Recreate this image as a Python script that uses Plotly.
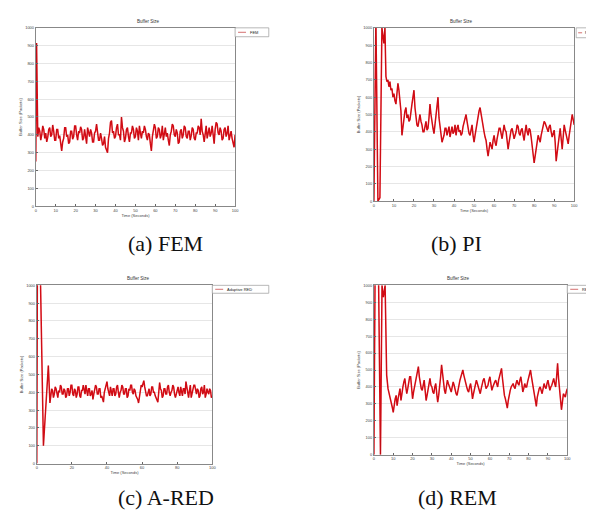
import plotly.graph_objects as go

# ---------------- data ----------------
# FEM: spike at start, then samples every 0.5 s from t = 1 to t = 100
fem_start_time = [0, 0.4]
fem_start_buffer = [250, 915]
fem_buffer = [
    390, 440, 420, 370, 400, 450, 430, 380, 410, 360,
    385, 430, 440, 390, 400, 455, 420, 370, 370, 430,
    430, 380, 395, 340, 310, 360, 380, 440, 440, 390,
    400, 350, 360, 420, 420, 375, 390, 450, 450, 400,
    370, 420, 410, 445, 430, 370, 380, 430, 400, 350,
    440, 400, 390, 430, 410, 360, 360, 410, 420, 460,
    400, 370, 370, 410, 380, 340, 350, 390, 330, 310,
    300, 380, 410, 470, 480, 410, 420, 380, 390, 440,
    460, 400, 400, 370, 500, 440, 420, 360, 380, 430,
    440, 390, 360, 410, 410, 450, 430, 380, 390, 440,
    420, 370, 450, 410, 380, 420, 410, 450, 430, 390,
    370, 410, 400, 350, 310, 390, 420, 460, 440, 380,
    390, 440, 430, 380, 400, 450, 370, 410, 440, 390,
    410, 370, 340, 400, 420, 460, 450, 400, 390, 430,
    410, 350, 360, 420, 430, 380, 400, 450, 440, 390,
    380, 420, 420, 370, 395, 440, 430, 380, 370, 410,
    410, 450, 440, 400, 490, 420, 400, 360, 420, 450,
    380, 420, 440, 390, 410, 450, 390, 350, 430, 470,
    460, 410, 400, 440, 420, 370, 380, 430, 440, 390,
    410, 450, 370, 400, 420, 380, 350, 330, 400]

# PI: start-up oscillation, then samples every 0.5 s from t = 6 to t = 100
pi_start_time = [0, 1, 2, 3, 4, 5, 5.5]
pi_start_buffer = [0, 1050, 0, 20, 1000, 910, 1000]
pi_buffer = [
    720, 690, 700, 660, 690, 640, 650, 600, 620, 580,
    560, 620, 680, 640, 590, 520, 380, 430, 460, 520,
    540, 480, 500, 460, 470, 530, 560, 600, 640, 540,
    480, 440, 430, 480, 500, 460, 440, 400, 400, 430,
    460, 410, 420, 480, 560, 500, 450, 420, 390, 440,
    470, 520, 600, 480, 420, 370, 340, 360, 380, 420,
    420, 380, 400, 430, 370, 410, 430, 390, 400, 440,
    380, 420, 440, 400, 410, 380, 390, 430, 460, 480,
    500, 460, 420, 390, 380, 420, 440, 380, 340, 380,
    420, 450, 480, 520, 540, 500, 470, 430, 400, 370,
    350, 300, 260, 300, 340, 320, 300, 350, 380, 340,
    320, 360, 390, 420, 420, 380, 360, 400, 440, 410,
    400, 350, 300, 340, 380, 410, 420, 390, 360, 380,
    400, 440, 430, 390, 380, 410, 420, 380, 350, 400,
    440, 400, 380, 420, 410, 370, 330, 280, 220, 260,
    310, 350, 380, 360, 340, 380, 410, 440, 460, 450,
    430, 410, 400, 430, 440, 400, 370, 390, 410, 340,
    230, 280, 340, 390, 420, 360, 300, 370, 440, 410,
    380, 350, 330, 380, 420, 460, 500, 470, 440]

# Adaptive RED: start-up transient, then samples every 0.5 s from t = 8 to t = 100
ared_start_time = [0, 0.4, 1.8, 3.8, 6.6, 7.5]
ared_start_buffer = [0, 1200, 1200, 100, 550, 340]
ared_buffer = [
    380, 420, 410, 370, 390, 430, 420, 380, 370, 410,
    400, 440, 430, 390, 390, 420, 410, 370, 380, 420,
    420, 380, 400, 440, 440, 390, 380, 420, 410, 370,
    390, 430, 430, 380, 370, 410, 410, 440, 400, 390,
    440, 400, 380, 420, 420, 380, 390, 410, 360, 390,
    410, 440, 430, 390, 390, 420, 420, 370, 380, 360,
    345, 400, 420, 440, 460, 420, 400, 380, 430, 400,
    380, 420, 420, 380, 390, 430, 440, 400, 370, 400,
    410, 440, 430, 390, 390, 420, 420, 370, 380, 420,
    410, 440, 440, 400, 390, 420, 410, 380, 370, 360,
    340, 380, 410, 440, 430, 450, 465, 430, 400, 380,
    380, 410, 420, 380, 390, 430, 430, 400, 400, 380,
    370, 360, 345, 400, 455, 420, 410, 370, 380, 420,
    420, 390, 390, 430, 440, 400, 380, 400, 410, 440,
    430, 390, 370, 390, 410, 430, 400, 380, 430, 400,
    380, 420, 420, 390, 460, 430, 390, 370, 410, 440,
    370, 400, 420, 440, 440, 400, 390, 420, 410, 370,
    380, 420, 430, 390, 400, 440, 370, 390, 420, 400,
    390, 420, 410, 370, 380]

# REM: start-up oscillation, then samples every 0.5 s from t = 8 to t = 100
rem_start_time = [0, 0.6, 2.4, 3.4, 4.2, 4.9, 5.8, 6.6, 7.3]
rem_start_buffer = [0, 1050, 1050, 0, 1000, 930, 1000, 470, 390]
rem_buffer = [
    360, 330, 310, 280, 250, 300, 330, 350, 290, 330,
    360, 390, 320, 370, 400, 430, 450, 400, 360, 390,
    420, 460, 460, 400, 330, 370, 400, 430, 450, 490,
    520, 460, 410, 390, 380, 420, 440, 380, 320, 350,
    380, 420, 450, 410, 400, 370, 360, 400, 420, 360,
    310, 350, 390, 460, 530, 470, 420, 380, 360, 400,
    440, 420, 400, 380, 370, 400, 430, 410, 380, 360,
    350, 390, 420, 440, 460, 490, 500, 470, 440, 420,
    400, 380, 370, 400, 420, 380, 330, 360, 390, 420,
    440, 420, 400, 370, 360, 390, 420, 440, 450, 410,
    390, 400, 410, 440, 460, 420, 380, 400, 420, 430,
    440, 410, 400, 440, 470, 490, 510, 450, 380, 350,
    330, 300, 275, 320, 360, 380, 400, 410, 420, 400,
    390, 420, 440, 420, 410, 440, 460, 420, 370, 390,
    420, 400, 400, 430, 450, 480, 500, 460, 420, 390,
    360, 320, 285, 340, 380, 390, 400, 380, 360, 390,
    420, 400, 390, 420, 440, 410, 380, 400, 410, 430,
    450, 420, 400, 460, 540, 450, 380, 320, 265, 310,
    360, 350, 340, 370, 390]

sample_step = 0.5  # seconds between samples after the start-up part
steady_start = [1, 6, 8, 8]

y_ticks = [0, 100, 200, 300, 400, 500, 600, 700, 800, 900, 1000]
x_ticks_fine = [0, 10, 20, 30, 40, 50, 60, 70, 80, 90, 100]
x_ticks_coarse = [0, 20, 40, 60, 80, 100]

series_names = ["FEM", "PI", "Adaptive RED", "REM"]
captions = ["(a) FEM", "(b) PI", "(c) A-RED", "(d) REM"]
plot_title = "Buffer Size"
y_title = "Buffer Size (Packets)"
x_title = "Time (Seconds)"

# ---------------- layout geometry (pixels) ----------------
W, H = 594, 519
boxes = [(27, 228, 17, 197), (368, 570, 17, 192), (28, 205, 277, 457), (368, 563, 277, 448)]
legend_boxes = [(228, 262, 17, 26), (572, 600, 17, 27), (205, 262, 277, 285), (563, 600, 277, 285)]
legend_sample = [(3, 11, 14), (2, 6, 8), (3, 11, 14), (3, 11, 14)]
caption_pos = [(158, 235), (451, 235), (158, 491), (452, 491)]


def px(x):
    return x / W


def py(y):
    return 1 - y / H


start_times = [fem_start_time, pi_start_time, ared_start_time, rem_start_time]
start_values = [fem_start_buffer, pi_start_buffer, ared_start_buffer, rem_start_buffer]
steady_values = [fem_buffer, pi_buffer, ared_buffer, rem_buffer]
xticks_list = [x_ticks_fine, x_ticks_fine, x_ticks_coarse, x_ticks_fine]

fig = go.Figure()
tick_font = dict(family="Liberation Sans", size=4, color="#444")
layout_axes = {}
annotations = []
shapes = []
for i in range(4):
    sfx = "" if i == 0 else str(i + 1)
    xa, ya = "x" + sfx, "y" + sfx
    steady_t = [steady_start[i] + sample_step * k for k in range(len(steady_values[i]))]
    t = start_times[i] + steady_t
    v = start_values[i] + steady_values[i]
    fig.add_trace(go.Scatter(x=t, y=v, mode="lines", name=series_names[i],
                             line=dict(color="#e8101a", width=1.5), xaxis=xa, yaxis=ya,
                             showlegend=False))
    fig.add_trace(go.Scatter(x=t, y=v, mode="lines", name=series_names[i],
                             line=dict(color="#4a0404", width=0.45), opacity=0.4,
                             xaxis=xa, yaxis=ya, showlegend=False, hoverinfo="skip"))
    l, r, tp, b = boxes[i]
    layout_axes["xaxis" + sfx] = dict(
        domain=[px(l), px(r)], anchor=ya, range=[0, 100], tickvals=xticks_list[i],
        ticks="inside", ticklen=2, tickcolor="#666", showline=True, linecolor="#888",
        linewidth=0.8, mirror=True, showgrid=False, zeroline=False, tickfont=tick_font,
        title=dict(text=x_title, font=dict(family="Liberation Sans", size=4, color="#444"), standoff=1))
    layout_axes["yaxis" + sfx] = dict(
        domain=[py(b), py(tp)], anchor=xa, range=[0, 1000], tickvals=y_ticks,
        ticks="inside", ticklen=2, tickcolor="#666", showline=True, linecolor="#888",
        linewidth=0.8, mirror=True, showgrid=True, gridcolor="#e6e6e6", gridwidth=0.6,
        zeroline=False, tickfont=tick_font,
        title=dict(text=y_title, font=dict(family="Liberation Sans", size=4, color="#444"), standoff=2))
    annotations.append(dict(x=px((l + r) / 2), y=py(tp - 2), xref="paper", yref="paper",
                            text=plot_title, showarrow=False, yanchor="bottom",
                            font=dict(family="Liberation Sans", size=4.5, color="#333")))
    cx, cy = caption_pos[i]
    annotations.append(dict(x=px(cx), y=py(cy), xref="paper", yref="paper", text=captions[i],
                            showarrow=False, xanchor="center", yanchor="middle",
                            font=dict(family="Liberation Serif", size=22, color="#111")))
    ll, lr, lt, lb = legend_boxes[i]
    s0, s1, tx = legend_sample[i]
    shapes.append(dict(type="rect", xref="paper", yref="paper", x0=px(ll), x1=px(lr),
                       y0=py(lb), y1=py(lt), line=dict(color="#999", width=0.7),
                       fillcolor="white"))
    midy = (lt + lb) / 2
    shapes.append(dict(type="line", xref="paper", yref="paper", x0=px(ll + s0), x1=px(ll + s1),
                       y0=py(midy), y1=py(midy), line=dict(color="#c03030", width=0.7)))
    annotations.append(dict(x=px(ll + tx), y=py(midy), xref="paper", yref="paper",
                            text=series_names[i], showarrow=False, xanchor="left",
                            yanchor="middle", borderpad=0,
                            font=dict(family="Liberation Sans", size=4, color="#222")))

fig.update_layout(
    width=W, height=H, margin=dict(l=0, r=0, t=0, b=0),
    paper_bgcolor="white", plot_bgcolor="white", showlegend=False,
    annotations=annotations, shapes=shapes, **layout_axes)

fig.write_html("out.html")
